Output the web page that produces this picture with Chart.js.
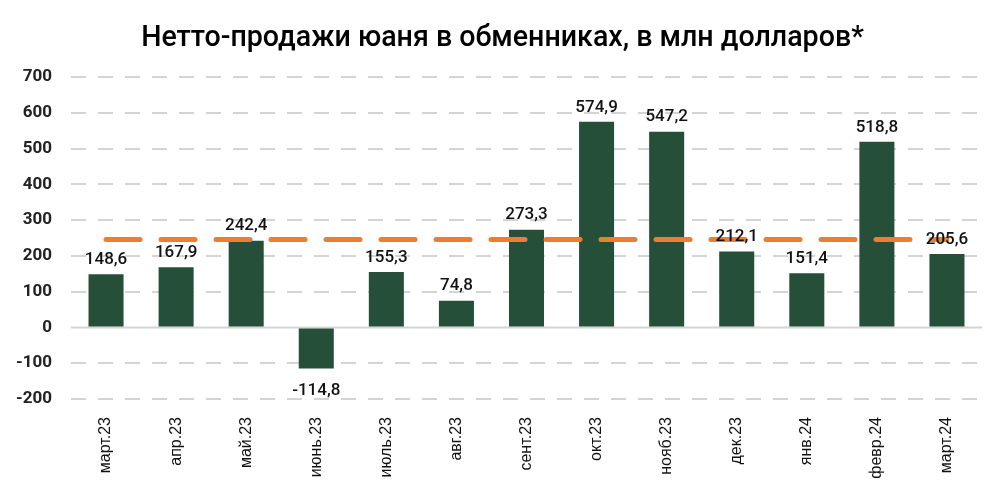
<!DOCTYPE html>
<html>
<head>
<meta charset="utf-8">
<script src="https://cdn.jsdelivr.net/npm/chart.js@4/dist/chart.umd.min.js"></script>
<style>
  body { margin: 0; background: #fff; }
  #wrap { width: 1005px; height: 495px; }
</style>
</head>
<body>
<div id="wrap"><canvas id="yuan-chart"></canvas></div>
<script>
const months = [ 'март.23', 'апр.23', 'май.23', 'июнь.23', 'июль.23', 'авг.23', 'сент.23', 'окт.23', 'нояб.23', 'дек.23', 'янв.24', 'февр.24', 'март.24' ]
const netSales = [ 148.6, 167.9, 242.4, -114.8, 155.3, 74.8, 273.3, 574.9, 547.2, 212.1, 151.4, 518.8, 205.6 ]
const averageLevel = [ 246, 246, 246, 246, 246, 246, 246, 246, 246, 246, 246, 246, 246 ]
const yTicks = [ -200, -100, 0, 100, 200, 300, 400, 500, 600, 700 ]
const chartTitle = 'Нетто-продажи юаня в обменниках, в млн долларов*'

const barColor = '#264f3a'
const lineColor = '#ed7d31'
const gridColor = '#d4d4d4'

// value labels over the bars, comma as decimal mark
const barLabels = {
  id: 'barLabels',
  afterDatasetsDraw(chart) {
    const ctx = chart.ctx
    const meta = chart.getDatasetMeta(0)
    ctx.save()
    ctx.font = '500 17px Roboto'
    ctx.fillStyle = '#111'
    ctx.textAlign = 'center'
    meta.data.forEach((bar, i) => {
      const v = netSales[i]
      const text = v.toFixed(1).replace('.', ',')
      if (v >= 0) {
        ctx.textBaseline = 'bottom'
        ctx.fillText(text, bar.x, bar.y - 6)
      } else {
        ctx.textBaseline = 'top'
        ctx.fillText(text, bar.x, bar.y + 14)
      }
    })
    ctx.restore()
  }
}

// title centred on the whole canvas, not on the padded box
const pageTitle = {
  id: 'pageTitle',
  afterDraw(chart) {
    const ctx = chart.ctx
    ctx.save()
    ctx.font = '500 28.6px Roboto'
    ctx.fillStyle = '#000'
    ctx.textAlign = 'center'
    ctx.textBaseline = 'middle'
    ctx.fillText(chartTitle, chart.width / 2, 39)
    ctx.restore()
  }
}

// solid zero line on top of the dashed grid
const zeroLine = {
  id: 'zeroLine',
  beforeDatasetsDraw(chart) {
    const { ctx, chartArea, scales } = chart
    const y = scales.y.getPixelForValue(0)
    ctx.save()
    ctx.strokeStyle = gridColor
    ctx.lineWidth = 2
    ctx.beginPath()
    ctx.moveTo(chartArea.left, y)
    ctx.lineTo(chartArea.right, y)
    ctx.stroke()
    ctx.restore()
  }
}

const ctx = document.getElementById('yuan-chart')

new Chart(ctx, {
  data: {
    labels: months,
    datasets: [
      {
        type: 'bar',
        label: 'Нетто-продажи',
        data: netSales,
        backgroundColor: barColor,
        barPercentage: 0.5,
        categoryPercentage: 1,
        order: 2,
      },
      {
        type: 'line',
        label: 'Среднее',
        data: averageLevel,
        borderColor: lineColor,
        borderWidth: 5,
        borderDash: [ 34, 21 ],
        borderCapStyle: 'round',
        pointRadius: 0,
        fill: false,
        order: 1,
      },
    ],
  },
  options: {
    responsive: true,
    maintainAspectRatio: false,
    animation: false,
    layout: { padding: { left: 0, right: 23, top: 77, bottom: 0 } },
    plugins: {
      legend: { display: false },
      tooltip: { enabled: false },
      title: { display: false },
    },
    scales: {
      x: {
        grid: { display: false },
        border: { display: false },
        ticks: {
          color: '#111',
          font: { family: 'Liberation Sans', size: 16 },
          minRotation: 90,
          maxRotation: 90,
          autoSkip: false,
          padding: 10,
        },
        afterFit: (scale) => { scale.height = 96 },
      },
      y: {
        min: -200,
        max: 700,
        afterBuildTicks: (scale) => { scale.ticks = yTicks.map(v => ({ value: v })) },
        afterFit: (scale) => { scale.width = 71 },
        grid: {
          color: (c) => c.tick && c.tick.value === 0 ? 'rgba(0,0,0,0)' : gridColor,
          lineWidth: 2,
          drawTicks: false,
        },
        border: { display: false, dash: [ 15, 12 ] },
        ticks: {
          color: '#222',
          font: { family: 'Roboto', size: 17, weight: 'bold' },
          padding: 19,
        },
      },
    },
  },
  plugins: [ zeroLine, barLabels, pageTitle ],
})
</script>
</body>
</html>
